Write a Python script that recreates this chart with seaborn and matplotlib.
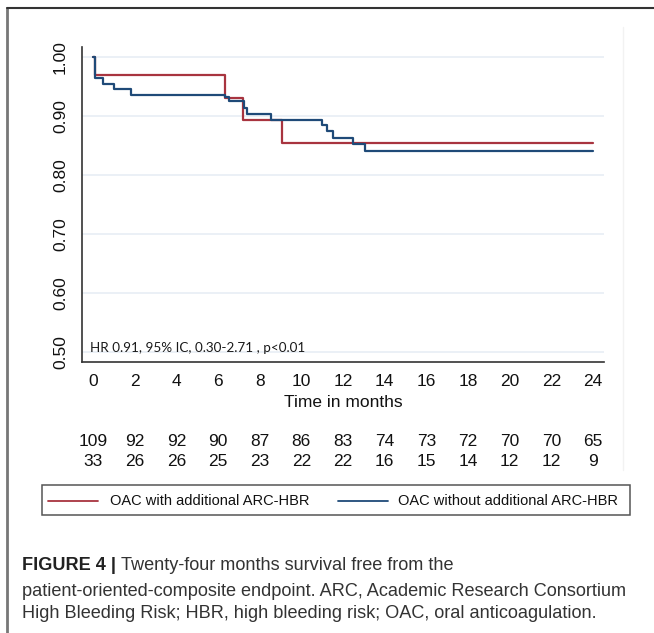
import pandas as pd
import matplotlib.pyplot as plt
import seaborn as sns
from matplotlib.lines import Line2D
from matplotlib.patches import Rectangle

# Kaplan-Meier steps
red_time = [0, 0.08, 6.34, 7.22, 9.09, 24]
red_surv = [1.0, 0.970, 0.931, 0.893, 0.854, 0.854]

blue_time = [0, 0.08, 0.5, 1.02, 1.81, 6.34, 6.54, 7.25, 7.38, 8.55,
             10.97, 11.25, 11.54, 12.46, 13.07, 24]
blue_surv = [1.0, 0.964, 0.955, 0.945, 0.935, 0.933, 0.925, 0.913, 0.903, 0.893,
             0.884, 0.874, 0.863, 0.852, 0.841, 0.841]

red_label = 'OAC with additional ARC-HBR'
blue_label = 'OAC without additional ARC-HBR'

# numbers at risk
risk_times = [0, 2, 4, 6, 8, 10, 12, 14, 16, 18, 20, 22, 24]
risk_blue = [109, 92, 92, 90, 87, 86, 83, 74, 73, 72, 70, 70, 65]
risk_red = [33, 26, 26, 25, 23, 22, 22, 16, 15, 14, 12, 12, 9]

y_ticks = [0.5, 0.6, 0.7, 0.8, 0.9, 1.0]
hr_text = 'HR 0.91, 95% IC, 0.30-2.71 , p<0.01'

df = pd.concat([
    pd.DataFrame({'time': red_time, 'surv': red_surv, 'group': red_label}),
    pd.DataFrame({'time': blue_time, 'surv': blue_surv, 'group': blue_label}),
])

sns.set_style('white')
plt.rcParams['font.family'] = ['Liberation Sans', 'DejaVu Sans']

red = '#a8343f'
blue = '#1f4a78'
W, H = 654, 633

fig = plt.figure(figsize=(W / 100, H / 100), dpi=100)
ax = fig.add_axes([82 / W, 1 - 362 / H, 522 / W, 315 / H])

sns.lineplot(data=df, x='time', y='surv', hue='group', drawstyle='steps-post',
             palette={red_label: red, blue_label: blue}, estimator=None,
             legend=False, linewidth=1.6, ax=ax)

ax.set_xlim(-0.53, 24.53)
ax.set_ylim(0.483, 1.017)
ax.set_xticks(risk_times)
ax.set_yticks(y_ticks)
ax.set_yticklabels([f'{v:.2f}' for v in y_ticks], rotation=90, va='center')
for v in y_ticks:
    ax.axhline(v, color='#e8eef5', lw=1.2, zorder=0)
ax.tick_params(axis='both', direction='out', length=6, width=1.1,
               color='#333333', labelsize=12.5, labelcolor='#111111', pad=3)
ax.tick_params(axis='y', pad=4)
for s in ['top', 'right']:
    ax.spines[s].set_visible(False)
for s in ['left', 'bottom']:
    ax.spines[s].set_color('#333333')
    ax.spines[s].set_linewidth(1.2)
ax.set_xlabel('Time in months', fontsize=12.5, color='#111111', labelpad=4)
ax.set_ylabel('')

ax.text(-0.15, 0.507, hr_text, fontsize=9.7, family=['Lato', 'DejaVu Sans'],
        color='#1a1a1a', va='center', ha='left')

# number at risk table
for t, a, b in zip(risk_times, risk_blue, risk_red):
    xf = (93 + t * 500 / 24) / W
    fig.text(xf, 1 - 442 / H, str(a), ha='center', va='center', fontsize=12.5, color='#111111')
    fig.text(xf, 1 - 462 / H, str(b), ha='center', va='center', fontsize=12.5, color='#111111')

# legend box drawn by hand, Stata style
fig.add_artist(Rectangle((42 / W, 1 - 515 / H), 588 / W, 30 / H, fill=False,
                         edgecolor='#555555', lw=1.1))
ly = 1 - 501 / H
fig.add_artist(Line2D([48 / W, 98 / W], [ly, ly], color=red, lw=1.3))
fig.text(110 / W, ly, red_label, fontsize=10.5, color='#111111', va='center', ha='left')
fig.add_artist(Line2D([338 / W, 388 / W], [ly, ly], color=blue, lw=1.3))
fig.text(398 / W, ly, blue_label, fontsize=10.5, color='#111111', va='center', ha='left')

# outer frame of the panel
fig.add_artist(Line2D([7 / W, 7 / W], [0, 1 - 8 / H], color='#777777', lw=2))
fig.add_artist(Line2D([7 / W, 1], [1 - 8 / H, 1 - 8 / H], color='#333333', lw=1.5))
fig.add_artist(Line2D([623 / W, 623 / W], [1 - 470 / H, 1 - 27 / H], color='#f2f2f2', lw=1))

# caption
renderer = fig.canvas.get_renderer()
cap_x = 22 / W
cap_size = 13.1
bold = fig.text(cap_x, 1 - 565 / H, 'FIGURE 4 |', fontsize=cap_size, fontweight='bold',
                color='#222222', va='center', ha='left')
bb = bold.get_window_extent(renderer)
fig.text(bb.x1 / W + 5 / W, 1 - 565 / H, 'Twenty-four months survival free from the',
         fontsize=cap_size, color='#333333', va='center', ha='left')
fig.text(cap_x, 1 - 591 / H,
         'patient-oriented-composite endpoint. ARC, Academic Research Consortium',
         fontsize=cap_size, color='#333333', va='center', ha='left')
fig.text(cap_x, 1 - 614 / H,
         'High Bleeding Risk; HBR, high bleeding risk; OAC, oral anticoagulation.',
         fontsize=cap_size, color='#333333', va='center', ha='left')

fig.savefig('out.png', dpi=100, facecolor='white')
